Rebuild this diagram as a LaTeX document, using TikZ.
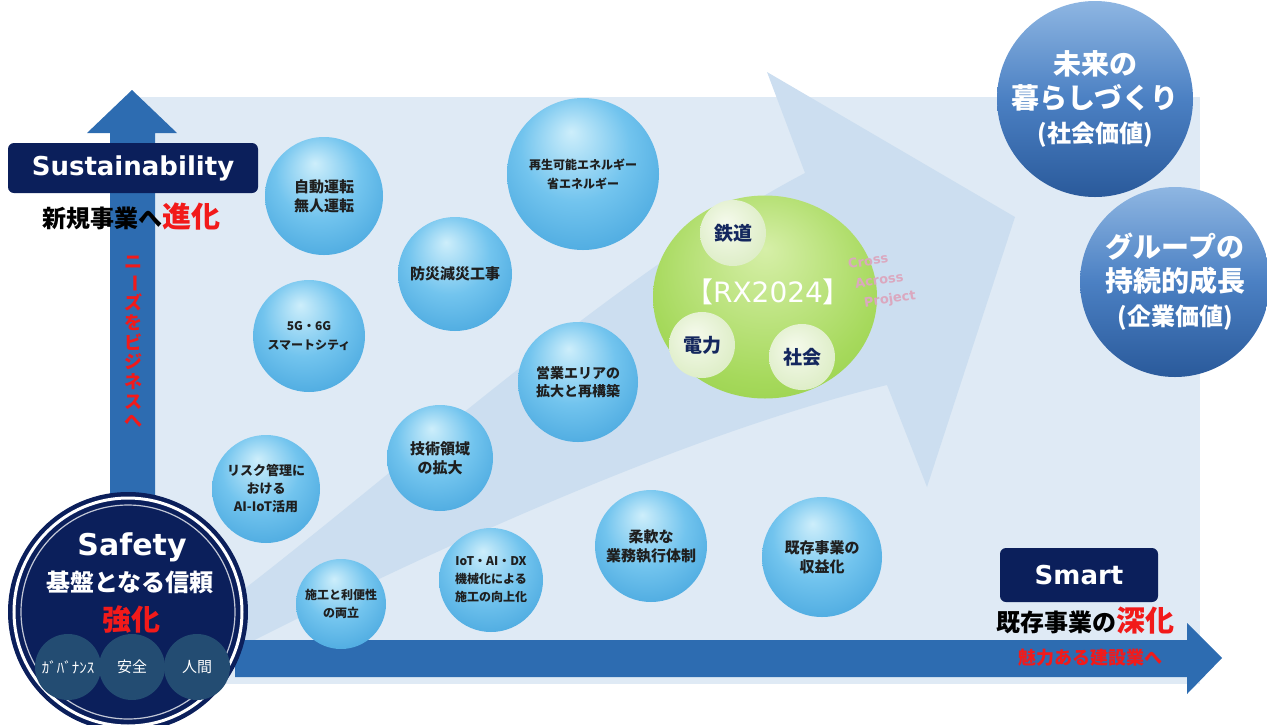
\documentclass[tikz,border=0pt]{standalone}
\usepackage{fontspec}
\usepackage{graphicx}
\setmainfont{Noto Sans CJK JP}
\newfontfamily\latfont{DejaVu Sans}
\usetikzlibrary{shapes.geometric}

\definecolor{navyblue}{HTML}{0B1F5B}
\definecolor{axisblue}{HTML}{2D6CB1}
\definecolor{panelblue}{HTML}{DFEAF5}
\definecolor{arrowpale}{HTML}{CCDEF0}
\definecolor{bubtop}{HTML}{CDEEFB}
\definecolor{bubmid}{HTML}{72C4EE}
\definecolor{bubedge}{HTML}{2A92D3}
\definecolor{bubrim}{HTML}{3FA3DD}
\definecolor{greenin}{HTML}{D6EFA8}
\definecolor{greenmid}{HTML}{A6D95C}
\definecolor{greenout}{HTML}{80C52E}
\definecolor{palein}{HTML}{F5FAEC}
\definecolor{palemid}{HTML}{DDEDC6}
\definecolor{paleout}{HTML}{B7D98A}
\definecolor{valuetop}{HTML}{8EB6E2}
\definecolor{valuemid}{HTML}{4B80C3}
\definecolor{valuebot}{HTML}{2A5A9B}
\definecolor{alertred}{HTML}{F21A1A}
\definecolor{slateblue}{HTML}{234C72}
\definecolor{labelnavy}{HTML}{14275E}
\definecolor{crosspink}{HTML}{DBA8BF}

\pgfdeclareradialshading{bubbleshade}{\pgfpoint{-4bp}{14bp}}{%
  color(0bp)=(bubtop); color(18bp)=(bubmid); color(46bp)=(bubedge); color(50bp)=(bubrim)}
\pgfdeclareradialshading{greenshade}{\pgfpoint{0bp}{12bp}}{%
  color(0bp)=(greenin); color(26bp)=(greenmid); color(50bp)=(greenout)}
\pgfdeclareradialshading{paleshade}{\pgfpoint{-6bp}{8bp}}{%
  color(0bp)=(palein); color(30bp)=(palemid); color(50bp)=(paleout)}

\tikzset{
  bubble/.style={circle, shading=bubbleshade, inner sep=0pt, align=center,
    text=black!88, font=\bfseries\fontsize{14}{18}\selectfont},
  valueball/.style={circle, top color=valuetop, bottom color=valuebot,
    middle color=valuemid, inner sep=0pt, align=center, text=white,
    font=\bfseries\fontsize{28}{34}\selectfont},
  paleball/.style={circle, shading=paleshade, inner sep=0pt, text=labelnavy,
    font=\bfseries\fontsize{19}{20}\selectfont},
  pillar/.style={circle, fill=slateblue, inner sep=0pt, minimum size=66pt,
    text=white, font=\fontsize{15}{16}\selectfont},
  navybox/.style={rounded corners=6pt, fill=navyblue, text=white,
    font=\latfont\bfseries\fontsize{26}{28}\selectfont},
  crossword/.style={rotate=9, anchor=west, inner sep=0pt, text=crosspink,
    font=\latfont\bfseries\fontsize{13}{14}\selectfont},
  redword/.style={text=alertred, font=\bfseries\fontsize{29}{30}\selectfont}
}

\begin{document}
\begin{tikzpicture}[x=1pt,y=-1pt]
  \useasboundingbox (0,0) rectangle (1267,724);

  % panel and the broad arrow behind the bubbles
  \fill[panelblue] (133,97) rectangle (1200,684);
  \fill[arrowpale] (230,600) .. controls (400,470) and (620,270) .. (805,173)
    -- (767,72) -- (1015,217) -- (927,487) -- (887,385)
    .. controls (700,430) and (450,540) .. (235,650) -- cycle;

  % axes
  \fill[axisblue] (110,560) -- (110,133) -- (87,133) -- (132,90) -- (177,133)
    -- (155,133) -- (155,560) -- cycle;
  \fill[axisblue] (235,640) -- (1187,640) -- (1187,623) -- (1222,658)
    -- (1187,694) -- (1187,677) -- (235,677) -- cycle;

  % bubbles
  \node[bubble, minimum size=118pt, font=\bfseries\fontsize{15}{19}\selectfont] (drive) at (324,196) {自動運転\\無人運転};
  \node[bubble, minimum size=152pt, font=\bfseries\fontsize{12}{19}\selectfont] (energy) at (583,174) {再生可能エネルギー\\省エネルギー};
  \node[bubble, minimum size=114pt, font=\bfseries\fontsize{15}{19}\selectfont] (disaster) at (455,274) {防災減災工事};
  \node[bubble, minimum size=112pt, font=\bfseries\fontsize{12}{19}\selectfont] (city) at (309,336) {5G・6G\\スマートシティ};
  \node[bubble, minimum size=120pt] (area) at (578,382) {営業エリアの\\拡大と再構築};
  \node[bubble, minimum size=106pt, font=\bfseries\fontsize{15}{19}\selectfont] (tech) at (440,458) {技術領域\\の拡大};
  \node[bubble, minimum size=108pt, font=\bfseries\fontsize{13}{18}\selectfont] (risk) at (266,489) {リスク管理に\\おける\\AI-IoT活用};
  \node[bubble, minimum size=90pt, font=\bfseries\fontsize{12}{18}\selectfont] (convenience) at (341,604) {施工と利便性\\の両立};
  \node[bubble, minimum size=104pt, font=\bfseries\fontsize{12}{18}\selectfont] (dx) at (491,580) {IoT・AI・DX\\機械化による\\施工の向上化};
  \node[bubble, minimum size=112pt, font=\bfseries\fontsize{15}{19}\selectfont] (flexible) at (651,546) {柔軟な\\業務執行体制};
  \node[bubble, minimum size=120pt, font=\bfseries\fontsize{15}{19}\selectfont] (profit) at (822,557) {既存事業の\\収益化};

  % RX2024
  \node[ellipse, shading=greenshade, minimum width=224pt, minimum height=203pt,
    inner sep=0pt] (rx) at (765,297) {};
  \node[paleball, minimum size=66pt] (rail) at (733,233) {鉄道};
  \node[paleball, minimum size=66pt] (power) at (702,345) {電力};
  \node[paleball, minimum size=66pt] (society) at (802,357) {社会};
  \node[text=white, font=\fontsize{28}{30}\selectfont] (rxname) at (768,292) {【{\latfont RX2024}】};
  \node[crossword] (cross) at (848,264) {Cross};
  \node[crossword] (across) at (855,284) {Across};
  \node[crossword] (project) at (864,304) {Project};

  % values
  \node[valueball, minimum size=196pt] (future) at (1095,99)
    {未来の\\暮らしづくり\\{\fontsize{24}{30}\selectfont(社会価値)}};
  \node[valueball, minimum size=190pt] (growth) at (1175,282)
    {グループの\\持続的成長\\{\fontsize{24}{30}\selectfont(企業価値)}};

  % Sustainability axis
  \node[navybox, minimum width=250pt, minimum height=50pt] (sustain) at (133,168) {Sustainability};
  \node[font=\bfseries\fontsize{24}{26}\selectfont] (shinki) at (131,217)
    {新規事業へ{\color{alertred}\fontsize{29}{30}\selectfont 進化}};
  \node[font=\bfseries\fontsize{18}{19.7}\selectfont, text=alertred, align=center] (needs) at (133,342)
    {ニ\\\rotatebox[origin=c]{-90}{ー}\\ズ\\を\\ビ\\ジ\\ネ\\ス\\へ};

  % Smart axis
  \node[navybox, minimum width=158pt, minimum height=54pt] (smart) at (1079,575) {Smart};
  \node[font=\bfseries\fontsize{24}{26}\selectfont] (kizon) at (1085,621)
    {既存事業の{\color{alertred}\fontsize{29}{30}\selectfont 深化}};
  \node[text=alertred, font=\bfseries\fontsize{18}{20}\selectfont] (appeal) at (1090,658) {魅力ある建設業へ};

  % Safety
  \node[circle, fill=navyblue, minimum size=240pt, inner sep=0pt] (safe) at (128,612) {};
  \draw[white, line width=3pt] (safe.center) circle[radius=114];
  \draw[white!75!navyblue, line width=1.2pt] (safe.center) circle[radius=107];
  \node[text=white, font=\latfont\bfseries\fontsize{30}{32}\selectfont] (safety) at (132,547) {Safety};
  \node[text=white, font=\bfseries\fontsize{24}{26}\selectfont] (kiban) at (130,582) {基盤となる信頼};
  \node[redword] (kyoka) at (131,620) {強化};
  \node[pillar] (gov) at (68,667) {};
  \node[pillar] (secure) at (132,667) {};
  \node[pillar] (human) at (197,667) {};
  \node[text=white, font=\fontsize{15}{16}\selectfont] at (gov) {ｶﾞﾊﾞﾅﾝｽ};
  \node[text=white, font=\fontsize{15}{16}\selectfont] at (secure) {安全};
  \node[text=white, font=\fontsize{15}{16}\selectfont] at (human) {人間};
\end{tikzpicture}
\end{document}
